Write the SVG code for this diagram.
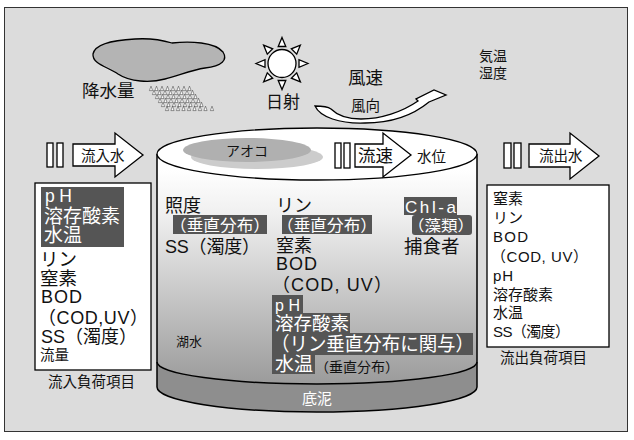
<svg xmlns="http://www.w3.org/2000/svg" width="634" height="440" viewBox="0 0 634 440">
<style>
.t{font-family:"Liberation Sans","Noto Sans CJK JP",sans-serif;fill:#111}
.w{fill:#fff}
.hl{fill:#555}
.ol{fill:#fff;stroke:#000;stroke-width:1.3}
.ln{fill:none;stroke:#000;stroke-width:1.5}
.drop{fill:#fff;stroke:#333;stroke-width:0.5}
</style>
<defs>
<linearGradient id="water" gradientUnits="userSpaceOnUse" x1="0" y1="170" x2="0" y2="385">
<stop offset="0" stop-color="#ffffff"/>
<stop offset="0.2" stop-color="#f0f0f0"/>
<stop offset="1" stop-color="#9a9a9a"/>
</linearGradient>
<path id="drop" class="drop" d="M0,-2.8 L1.6,1.6 L-1.6,1.6 Z"/>
<g id="dropRow">
<use href="#drop" x="0"/><use href="#drop" x="5.5"/><use href="#drop" x="11"/><use href="#drop" x="16.5"/>
<use href="#drop" x="22"/><use href="#drop" x="27.5"/><use href="#drop" x="33"/><use href="#drop" x="38.5"/>
</g>
<path id="ray" class="ol" d="M0,-26 L3.8,-17 L-3.8,-17 Z"/>
</defs>

<!-- frame -->
<rect x="4.5" y="7.5" width="623" height="424" fill="#dcdcdc" stroke="#333" stroke-width="1"/>

<!-- weather -->
<g id="rain">
<path d="M93,54 C95,44 115,40 135,39 C150,38 162,40 172,43 C190,41 215,42 223,52 C228,60 222,66 205,68 C192,70 180,75 165,79 C150,83 130,82 118,74 C108,67 92,64 93,54 Z" fill="#b4b4b4" stroke="#000" stroke-width="1.3"/>
<use href="#dropRow" x="151" y="89"/>
<use href="#dropRow" x="154" y="93"/>
<use href="#dropRow" x="157" y="97"/>
<use href="#dropRow" x="160" y="101"/>
<use href="#dropRow" x="163" y="105"/>
<use href="#dropRow" x="167" y="109"/>
<use href="#drop" x="212" y="109"/>
<text class="t" x="82" y="97" font-size="17.5">降水量</text>
</g>

<g id="sun">
<g transform="translate(282,63.5)">
<use href="#ray"/>
<use href="#ray" transform="rotate(45)"/>
<use href="#ray" transform="rotate(90)"/>
<use href="#ray" transform="rotate(135)"/>
<use href="#ray" transform="rotate(180)"/>
<use href="#ray" transform="rotate(225)"/>
<use href="#ray" transform="rotate(270)"/>
<use href="#ray" transform="rotate(315)"/>
<circle r="14" class="ol"/>
</g>
<text class="t" x="266" y="108" font-size="17">日射</text>
</g>

<g id="wind">
<path class="ol" d="M315,106 C321,106 327,106 331,109 C337,115 347,119 361,119 C381,119 402,112 418,101 L416,99 L434,90 L446,95 L429,102 C412,116 390,123 365,123 C340,124 320,117 315,106 Z"/>
<text class="t" x="348" y="84" font-size="17.5">風速</text>
<text class="t" x="351" y="111" font-size="14.5">風向</text>
</g>

<g id="air">
<text class="t" x="479" y="61" font-size="14">気温</text>
<text class="t" x="479" y="78" font-size="14">湿度</text>
</g>

<!-- lake cylinder -->
<g id="lake">
<path d="M157,154 L157,362 A160,22 0 0 0 477,362 L477,154 Z" fill="url(#water)"/>
<path d="M157,362 A160,22 0 0 0 477,362 L477,387 A160,25 0 0 1 157,387 Z" fill="#8e8e8e"/>
<path class="ln" d="M157,154 L157,387 A160,25 0 0 0 477,387 L477,154"/>
<path class="ln" d="M157,362 A160,22 0 0 0 477,362"/>
<ellipse cx="317" cy="154" rx="160" ry="26" class="ol" stroke-width="1.5"/>
<ellipse cx="257" cy="157" rx="66" ry="12" fill="#cccccc"/>
<ellipse cx="247" cy="150" rx="64" ry="12" fill="#b0b0b0"/>
<text class="t" x="226" y="156" font-size="14">アオコ</text>
<text class="t" x="176" y="346" font-size="13">湖水</text>
<text class="t w" x="302" y="404" font-size="15">底泥</text>
</g>

<g id="lake-items">
<text class="t" x="165" y="212" font-size="18">照度</text>
<rect class="hl" x="173" y="215" width="94" height="19"/>
<text class="t w" x="170" y="231" font-size="16" textLength="100" lengthAdjust="spacingAndGlyphs">（垂直分布）</text>
<text class="t" x="165" y="253" font-size="18" textLength="95">SS（濁度）</text>

<text class="t" x="276" y="212" font-size="18">リン</text>
<rect class="hl" x="282" y="215" width="90" height="19"/>
<text class="t w" x="277" y="231" font-size="16" textLength="100" lengthAdjust="spacingAndGlyphs">（垂直分布）</text>
<text class="t" x="276" y="252" font-size="18">窒素</text>
<text class="t" x="276" y="270" font-size="18" textLength="41">BOD</text>
<text class="t" x="272" y="290.5" font-size="18" textLength="120">（COD, UV）</text>

<rect class="hl" x="272" y="295" width="31" height="18"/>
<rect class="hl" x="272" y="313" width="78" height="20"/>
<rect class="hl" x="272" y="333" width="201" height="22"/>
<rect class="hl" x="272" y="355" width="43" height="19"/>
<text class="t w" x="275" y="310.5" font-size="16" textLength="25">pH</text>
<text class="t w" x="275" y="330" font-size="18.5">溶存酸素</text>
<text class="t w" x="271" y="351" font-size="19.5" textLength="203" lengthAdjust="spacingAndGlyphs">（リン垂直分布に関与）</text>
<text class="t w" x="275" y="371" font-size="19">水温</text>
<text class="t" x="315" y="372" font-size="13.5" textLength="84" lengthAdjust="spacingAndGlyphs">（垂直分布）</text>

<rect class="hl" x="404" y="197" width="53" height="18"/>
<text class="t w" x="405" y="213" font-size="17" textLength="51">Chl-a</text>
<rect class="hl" x="412" y="215" width="60" height="20" rx="3"/>
<text class="t w" x="408" y="231" font-size="15" textLength="66" lengthAdjust="spacingAndGlyphs">（藻類）</text>
<text class="t" x="404" y="253" font-size="18.5">捕食者</text>
</g>

<!-- flows -->
<g id="inflow">
<rect class="ol" x="47" y="143" width="6" height="24"/>
<rect class="ol" x="57" y="143" width="6" height="24"/>
<path class="ol" d="M73,144 L115,144 L115,133 L143,155 L115,177 L115,166 L73,166 Z"/>
<text class="t" x="81" y="161" font-size="14.5">流入水</text>
</g>

<g id="current">
<rect class="ol" x="335" y="143" width="6" height="25"/>
<rect class="ol" x="344" y="143" width="6" height="25"/>
<path class="ol" d="M355,144 L383,144 L383,133 L411,155 L383,177 L383,167 L355,167 Z"/>
<text class="t" x="358" y="162" font-size="17.5">流速</text>
<text class="t" x="417" y="162" font-size="14.5">水位</text>
</g>

<g id="outflow">
<rect class="ol" x="504" y="143" width="7" height="25"/>
<rect class="ol" x="514" y="143" width="7" height="25"/>
<path class="ol" d="M529,144 L570,144 L570,133 L599,156 L570,179 L570,167 L529,167 Z"/>
<text class="t" x="539" y="161" font-size="14.5">流出水</text>
</g>

<!-- load boxes -->
<g id="inflow-load">
<rect x="35" y="183" width="116" height="187" fill="#fff" stroke="#000" stroke-width="1.3"/>
<rect class="hl" x="41" y="187" width="83" height="60"/>
<text class="t w" x="45" y="202" font-size="17.5" textLength="27">pH</text>
<text class="t w" x="44" y="223" font-size="19">溶存酸素</text>
<text class="t w" x="44" y="242" font-size="19">水温</text>
<text class="t" x="40" y="266" font-size="18.5">リン</text>
<text class="t" x="40" y="285" font-size="18.5">窒素</text>
<text class="t" x="41" y="303" font-size="18" textLength="41">BOD</text>
<text class="t" x="38" y="324" font-size="18" textLength="110">（COD,UV）</text>
<text class="t" x="41" y="343" font-size="18" textLength="96">SS（濁度）</text>
<text class="t" x="40" y="360" font-size="14.5">流量</text>
<text class="t" x="48" y="387" font-size="14.5">流入負荷項目</text>
</g>

<g id="outflow-load">
<rect x="487" y="185" width="122" height="162" fill="#fff" stroke="#000" stroke-width="1.3"/>
<text class="t" x="493" y="204" font-size="15">窒素</text>
<text class="t" x="493" y="223" font-size="15">リン</text>
<text class="t" x="493" y="242" font-size="15" textLength="35">BOD</text>
<text class="t" x="491" y="262" font-size="15" textLength="97">（COD, UV）</text>
<text class="t" x="493" y="281" font-size="15" textLength="20">pH</text>
<text class="t" x="493" y="300" font-size="15">溶存酸素</text>
<text class="t" x="493" y="318" font-size="15">水温</text>
<text class="t" x="493" y="337" font-size="15" textLength="77">SS（濁度）</text>
<text class="t" x="500" y="363" font-size="14.5">流出負荷項目</text>
</g>
</svg>
